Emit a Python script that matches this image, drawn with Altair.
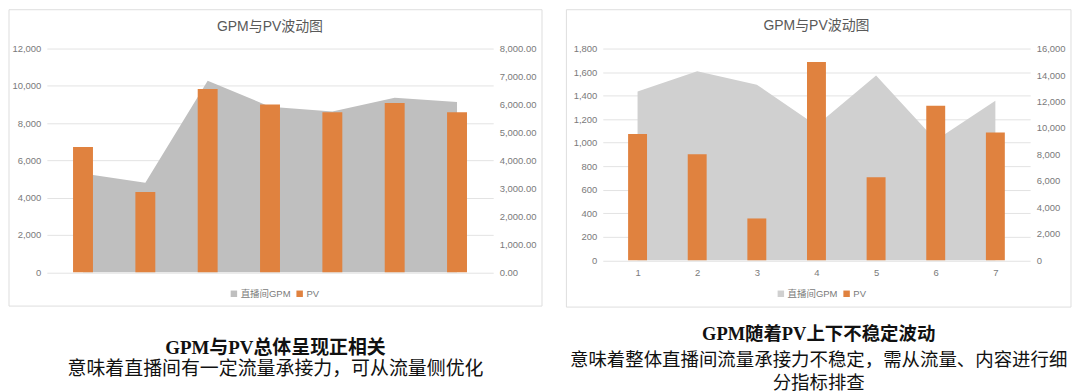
import altair as alt
import pandas as pd

# ---------------- data ----------------
cats = [1, 2, 3, 4, 5, 6, 7]
gpm_left = [5300, 4800, 10280, 8880, 8630, 9360, 9130]
pv_left = [4480, 2870, 6550, 6000, 5720, 6050, 5720]
gpm_right = [1435, 1608, 1493, 1145, 1571, 1020, 1356]
pv_right = [9550, 8010, 3160, 14980, 6270, 11670, 9650]

chart_title = "GPM与PV波动图"
series_names = ["直播间GPM", "PV"]

left_cap_title = "GPM与PV总体呈现正相关"
left_cap_sub = ["意味着直播间有一定流量承接力，可从流量侧优化"]
right_cap_title = "GPM随着PV上下不稳定波动"
right_cap_sub = ["意味着整体直播间流量承接力不稳定，需从流量、内容进行细", "分指标排查"]

left_ticks_l = [0, 2000, 4000, 6000, 8000, 10000, 12000]
left_ticks_r = [0, 1000, 2000, 3000, 4000, 5000, 6000, 7000, 8000]
right_ticks_l = [0, 200, 400, 600, 800, 1000, 1200, 1400, 1600, 1800]
right_ticks_r = [0, 2000, 4000, 6000, 8000, 10000, 12000, 14000, 16000]

# ---------------- style ----------------
ORANGE = "#e0823f"
GRID = "#e3e3e3"
LABEL = "#7a7a7a"
FONT = "Liberation Sans, Noto Sans CJK SC"
CAP_FONT = "Liberation Serif, Noto Sans CJK SC"


def panel(gpm, pv, area_color, W, H, lticks, rticks, lfmt, rfmt, show_x,
          rect, title_off, leg_xy, bar_w):
    df = pd.DataFrame({"cat": cats, "gpm": gpm, "pv": pv})
    color = alt.Color(
        "series:N",
        scale=alt.Scale(domain=series_names, range=[area_color, ORANGE]),
        legend=alt.Legend(
            title=None, orient="none", legendX=leg_xy[0], legendY=leg_xy[1],
            direction="horizontal", symbolType="square", symbolSize=42,
            symbolStrokeWidth=0, labelFontSize=9.5, labelColor=LABEL,
            labelFont=FONT, columnPadding=4, labelOffset=2, padding=0,
        ),
    )
    if show_x:
        xaxis = alt.Axis(values=cats, grid=False, domain=False, ticks=False,
                         labelPadding=7, labelFontSize=9.5, labelColor=LABEL,
                         labelFont=FONT, title=None)
    else:
        xaxis = None
    x = alt.X("cat:Q", scale=alt.Scale(domain=[0.5, 7.5], nice=False, zero=False),
              axis=xaxis, title=None)

    border = alt.Chart(pd.DataFrame({"k": [0]})).mark_rect(
        fill="white", fillOpacity=0, stroke="#dedede", strokeWidth=1
    ).encode(x=alt.value(rect[0]), x2=alt.value(rect[1]),
             y=alt.value(rect[2]), y2=alt.value(rect[3]))

    area = alt.Chart(df).transform_calculate(series=f"'{series_names[0]}'").mark_area(
        opacity=1
    ).encode(
        x=x,
        y=alt.Y("gpm:Q", scale=alt.Scale(domain=[lticks[0], lticks[-1]], nice=False),
                axis=alt.Axis(orient="left", values=lticks, format=lfmt, grid=True,
                              gridColor=GRID, gridWidth=1, domain=False, ticks=False,
                              labelPadding=6, labelFontSize=9.5, labelColor=LABEL,
                              labelFont=FONT, title=None)),
        color=color,
    )
    bars = alt.Chart(df).transform_calculate(series=f"'{series_names[1]}'").mark_bar(
        size=bar_w
    ).encode(
        x=x,
        y=alt.Y("pv:Q", scale=alt.Scale(domain=[rticks[0], rticks[-1]], nice=False),
                axis=alt.Axis(orient="right", values=rticks, format=rfmt, grid=False,
                              domain=False, ticks=False, labelPadding=6,
                              labelFontSize=9.5, labelColor=LABEL, labelFont=FONT,
                              title=None)),
        color=color,
    )
    return alt.layer(border, area, bars).resolve_scale(y="independent").properties(
        width=W, height=H,
        title=alt.Title(chart_title, fontSize=14, fontWeight="normal", color="#595959",
                        font=FONT, anchor="middle", offset=title_off),
    )


left = panel(gpm_left, pv_left, "#bfbfbf", 448, 224.5, left_ticks_l, left_ticks_r,
             ",.0f", ",.2f", False, (-38, 497, -39, 258.5), -25, (183, 241), 20)
right = panel(gpm_right, pv_right, "#d0d0d0", 429, 212.5, right_ticks_l, right_ticks_r,
              ",.0f", ",.0f", True, (-36.5, 470, -39, 259.5), -24, (174, 241), 19)

left_panel = alt.vconcat(left, title=alt.Title(
    left_cap_title, subtitle=left_cap_sub, orient="bottom", anchor="middle",
    offset=33, fontSize=19, fontWeight="bold", color="#111111", font=CAP_FONT,
    subtitleFontSize=19, subtitleColor="#111111", subtitleFont=CAP_FONT,
    subtitlePadding=2, subtitleFontWeight="normal"))
right_panel = alt.vconcat(right, title=alt.Title(
    right_cap_title, subtitle=right_cap_sub, orient="bottom", anchor="middle",
    offset=18, fontSize=18.5, fontWeight="bold", color="#111111", font=CAP_FONT,
    subtitleFontSize=18.5, subtitleColor="#111111", subtitleFont=CAP_FONT,
    subtitlePadding=7, subtitleLineHeight=23, subtitleFontWeight="normal"))

chart = alt.hconcat(left_panel, right_panel, spacing=23).resolve_scale(
    color="independent"
).properties(
    padding=0,
    background="white",
).configure_view(stroke=None)

chart.save("out.html", embed_options={"renderer": "svg", "actions": False})
